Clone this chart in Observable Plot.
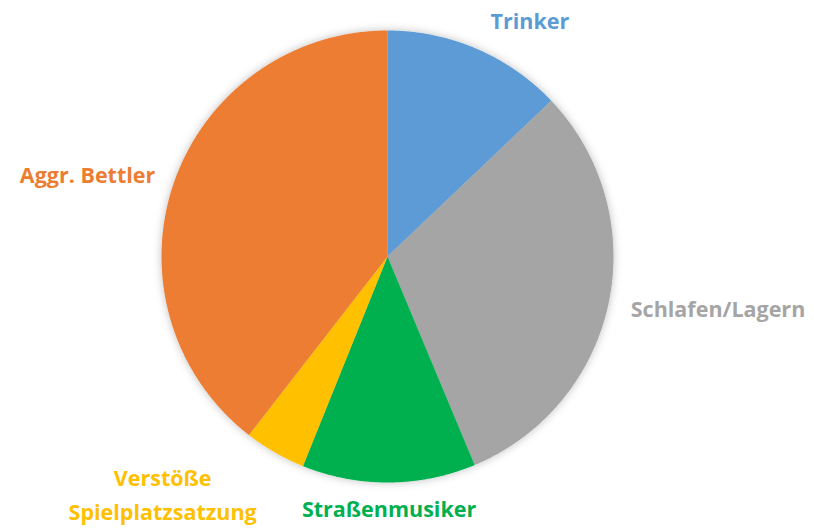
<!DOCTYPE html>
<html>
<head>
<meta charset="utf-8">
<script src="https://cdn.jsdelivr.net/npm/d3@7"></script>
<script src="https://cdn.jsdelivr.net/npm/@observablehq/plot@0.6"></script>
<style>
  html, body { margin: 0; padding: 0; background: #fff; }
  #chart svg { display: block; }
</style>
</head>
<body>
<div id="chart"></div>
<script>
// Data (clockwise from 12 o'clock)
const categories = ["Trinker", "Schlafen/Lagern", "Straßenmusiker", "Verstöße\nSpielplatzsatzung", "Aggr. Bettler"];
const shares = [12.9, 30.8, 12.4, 4.4, 39.5];
const colors = ["#5B9BD5", "#A5A5A5", "#00B050", "#FFC000", "#ED7D31"];

const W = 814, H = 531;
const cx = 387, cy = 256, R = 226; // layout of the pie in pixels

const data = categories.map((c, i) => ({category: c, value: shares[i]}));
const arcs = d3.pie().sort(null).value(d => d.value)(data);

// polygon points per slice in unit coordinates (y up)
const slicePts = [];
arcs.forEach(a => {
  const c = a.data.category;
  slicePts.push({category: c, x: 0, y: 0});
  const n = Math.max(2, Math.ceil((a.endAngle - a.startAngle) / 0.005));
  for (let k = 0; k <= n; k++) {
    const t = a.startAngle + (a.endAngle - a.startAngle) * k / n;
    slicePts.push({category: c, x: Math.sin(t), y: Math.cos(t)});
  }
});

// label anchor points just outside the rim at each slice's mid-angle
const lr = 1.1;
const labels = arcs.map(a => {
  const m = (a.startAngle + a.endAngle) / 2;
  return {category: a.data.category, x: lr * Math.sin(m), y: lr * Math.cos(m), s: Math.sin(m), co: Math.cos(m)};
});
const rightLabels = labels.filter(d => d.s > 0.45);
const leftLabels = labels.filter(d => d.s < -0.45 && !d.category.includes("\n"));
const leftMultiLabels = labels.filter(d => d.s < -0.45 && d.category.includes("\n"));
const bottomLabels = labels.filter(d => Math.abs(d.s) <= 0.45 && d.co < 0);
const topLabels = labels.filter(d => Math.abs(d.s) <= 0.45 && d.co >= 0);

const font = "'Open Sans', sans-serif";
const common = {x: "x", y: "y", text: "category", fill: "category", fontSize: 21.5, fontWeight: "bold", fontFamily: font};

const chart = Plot.plot({
  width: W,
  height: H,
  margin: 0,
  x: {domain: [-cx / R, (W - cx) / R], range: [0, W], axis: null},
  y: {domain: [-(H - cy) / R, cy / R], range: [H, 0], axis: null},
  color: {domain: categories, range: colors},
  style: {fontFamily: font, background: "white"},
  marks: [
    Plot.line(slicePts, {x: "x", y: "y", z: "category", fill: "category", stroke: "none", curve: "linear-closed", className: "pie"}),
    Plot.text(rightLabels, {...common, textAnchor: "start", lineAnchor: "middle", dy: 2}),
    Plot.text(topLabels, {...common, textAnchor: "start", lineAnchor: "bottom", dx: 5, dy: 1}),
    Plot.text(leftLabels, {...common, textAnchor: "end", lineAnchor: "middle", dx: 3}),
    Plot.text(leftMultiLabels, {...common, textAnchor: "middle", lineAnchor: "top", dx: -101, dy: -10, lineHeight: 1.58}),
    Plot.text(bottomLabels, {...common, textAnchor: "middle", lineAnchor: "top", dy: -3})
  ]
});

// soft shadow around the pie
const defs = d3.select(chart).insert("defs", ":first-child");
const f = defs.append("filter").attr("id", "pieShadow").attr("x", "-20%").attr("y", "-20%").attr("width", "140%").attr("height", "140%");
f.append("feDropShadow").attr("dx", 0).attr("dy", 0).attr("stdDeviation", 4).attr("flood-color", "#000").attr("flood-opacity", 0.25);
d3.select(chart).selectAll(".pie").attr("filter", "url(#pieShadow)");

document.getElementById("chart").appendChild(chart);
</script>
</body>
</html>
